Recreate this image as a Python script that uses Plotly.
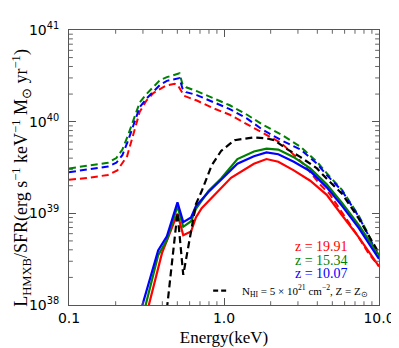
import plotly.graph_objects as go

# ---------------- data ----------------
# Intrinsic (dashed) spectra
E_dash_red = [0.100, 0.133, 0.178, 0.205, 0.237, 0.262, 0.286, 0.316, 0.350, 0.422, 0.480, 0.501,
              0.554, 0.668, 0.853, 1.09, 1.41, 1.75, 2.34, 3.25, 4.16, 4.80, 5.79, 7.39, 8.54, 10.0]
L_dash_red = [2.32e39, 2.44e39, 2.62e39, 2.94e39, 4.20e39, 7.41e39, 1.28e40, 1.70e40, 2.05e40, 2.48e40,
              2.59e40, 2.53e40, 1.91e40, 1.70e40, 1.40e40, 1.19e40, 9.4e39, 7.59e39, 5.85e39, 3.48e39,
              2.07e39, 1.63e39, 1.02e39, 5.49e38, 3.68e38, 2.64e38]

E_dash_green = [0.100, 0.133, 0.178, 0.202, 0.221, 0.240, 0.262, 0.286, 0.316, 0.350, 0.387, 0.428,
                0.480, 0.516, 0.539, 0.570, 0.668, 0.853, 1.09, 1.41, 1.75, 2.34, 3.12, 3.98, 4.60,
                5.79, 7.39, 8.54, 10.0]
L_dash_green = [3.09e39, 3.31e39, 3.56e39, 4.01e39, 4.96e39, 7.07e39, 1.08e40, 1.62e40, 2.00e40,
                2.42e40, 2.85e40, 3.06e40, 3.21e40, 3.37e40, 2.59e40, 2.37e40, 2.15e40, 1.82e40,
                1.51e40, 1.19e40, 9.4e39, 7.24e39, 5.32e39, 3.65e39, 2.74e39, 1.79e39, 9.47e38,
                5.89e38, 3.34e38]

E_dash_blue = [0.100, 0.133, 0.178, 0.202, 0.221, 0.240, 0.262, 0.286, 0.316, 0.350, 0.387, 0.428,
               0.480, 0.516, 0.539, 0.570, 0.668, 0.853, 1.09, 1.41, 1.75, 2.34, 3.12, 3.98, 4.60,
               5.79, 7.39, 8.54, 10.0]
L_dash_blue = [2.81e39, 3.01e39, 3.24e39, 3.56e39, 4.31e39, 6.14e39, 9.6e39, 1.44e40, 1.78e40,
               2.15e40, 2.53e40, 2.79e40, 2.92e40, 2.99e40, 2.31e40, 2.10e40, 1.95e40, 1.62e40,
               1.37e40, 1.08e40, 8.3e39, 6.28e39, 4.96e39, 3.48e39, 2.62e39, 1.75e39, 9.25e38,
               5.76e38, 3.26e38]

# Absorbed (solid) spectra
E_solid_red = [0.325, 0.398, 0.501, 0.546, 0.613, 0.659, 0.718, 0.879, 1.11, 1.56, 1.88, 2.24,
               2.82, 3.60, 4.60, 5.79, 7.39, 10.0]
L_solid_red = [9.5e37, 3.68e38, 9.93e38, 5.76e38, 6.33e38, 9.02e38, 1.14e39, 1.63e39, 2.44e39,
               3.48e39, 3.91e39, 3.65e39, 2.94e39, 2.27e39, 1.59e39, 9.47e38, 5.49e38, 2.64e38]

E_solid_green = [0.310, 0.376, 0.428, 0.501, 0.546, 0.613, 0.659, 0.794, 0.958, 1.22, 1.56, 1.88,
                 2.24, 2.82, 3.60, 4.60, 5.79, 7.39, 10.0]
L_solid_green = [9.5e37, 3.50e38, 5.12e38, 1.20e39, 7.13e38, 8.2e38, 1.12e39, 1.75e39, 2.40e39,
                 3.91e39, 4.73e39, 5.08e39, 4.96e39, 4.10e39, 3.09e39, 2.07e39, 1.29e39, 7.47e38,
                 3.50e38]

E_solid_blue = [0.295, 0.376, 0.428, 0.501, 0.546, 0.613, 0.659, 0.794, 0.958, 1.22, 1.56, 1.88,
                2.24, 2.82, 3.60, 4.60, 5.79, 7.39, 10.0]
L_solid_blue = [9.5e37, 3.94e38, 5.62e38, 1.32e39, 8.02e38, 9.02e38, 1.20e39, 1.71e39, 2.32e39,
                3.48e39, 4.20e39, 4.62e39, 4.41e39, 3.65e39, 2.88e39, 1.92e39, 1.20e39, 6.95e38,
                3.18e38]

E_black = [0.428, 0.501, 0.546, 0.659, 0.718, 0.83, 0.958, 1.17, 1.56, 1.88, 2.11, 2.58, 3.12,
           3.98, 4.60, 5.79, 7.39, 10.0]
L_black = [9.0e37, 1.02e39, 2.13e38, 1.26e39, 1.75e39, 3.3e39, 4.8e39, 6.28e39, 6.74e39, 6.58e39,
           6.28e39, 4.96e39, 4.10e39, 3.09e39, 2.38e39, 1.63e39, 8.81e38, 3.68e38]

x_tickvals = [0.1, 1.0, 10.0]
x_ticktext = ["0.1", "1.0", "10.0"]
x_minor_vals = [m * d for d in (0.1, 1.0) for m in range(2, 10)]
y_tickvals = [1e38, 1e39, 1e40, 1e41]
y_ticktext = ["10<sup>38</sup>", "10<sup>39</sup>", "10<sup>40</sup>", "10<sup>41</sup>"]
y_minor_vals = [m * d for d in (1e38, 1e39, 1e40) for m in range(2, 10)]

legend_labels = ["z = 19.91", "z = 15.34", "z = 10.07"]
legend_colors = ["#ff0000", "#008000", "#0000ff"]
black_label = "N<sub>HI</sub> = 5 × 10<sup>21</sup> cm<sup>−2</sup>, Z = Z<sub>⊙</sub>"

RED, GREEN, BLUE = "#ff0000", "#008000", "#0000ff"
DASH = "7px,4px"

fig = go.Figure()
for E, L, c in [(E_dash_red, L_dash_red, RED), (E_dash_green, L_dash_green, GREEN),
                (E_dash_blue, L_dash_blue, BLUE)]:
    fig.add_trace(go.Scatter(x=E, y=L, mode="lines", line=dict(color=c, width=2, dash=DASH),
                             showlegend=False, hoverinfo="skip"))
for E, L, c in [(E_solid_red, L_solid_red, RED), (E_solid_green, L_solid_green, GREEN),
                (E_solid_blue, L_solid_blue, BLUE)]:
    fig.add_trace(go.Scatter(x=E, y=L, mode="lines", line=dict(color=c, width=2.2),
                             showlegend=False, hoverinfo="skip"))
fig.add_trace(go.Scatter(x=E_black, y=L_black, mode="lines",
                         line=dict(color="black", width=2.2, dash=DASH),
                         showlegend=False, hoverinfo="skip"))

axis_common = dict(showline=True, linecolor="#555", linewidth=1, mirror="ticks",
                   ticks="inside", ticklen=7, tickcolor="#555", tickwidth=1,
                   showgrid=False, zeroline=False)

fig.update_layout(
    xaxis=dict(type="log", range=[-1, 1], tickvals=x_tickvals, ticktext=x_ticktext,
               tickfont=dict(family="DejaVu Sans", size=14, color="black"),
               title=dict(text="Energy(keV)", font=dict(family="Liberation Serif", size=17, color="black"),
                          standoff=6),
               **axis_common),
    yaxis=dict(type="log", range=[38, 41], tickvals=y_tickvals, ticktext=y_ticktext,
               tickfont=dict(family="DejaVu Sans", size=14, color="black"),
               ticklabelstandoff=6, **axis_common),
)

# minor ticks (inside, on all four sides), drawn as short axis-attached segments
TX = 4 / 292.0   # 4 px in paper-y units
TY = 4 / 320.0   # 4 px in paper-x units
minor_line = dict(color="#666", width=1)
for v in x_minor_vals:
    fig.add_shape(type="line", xref="x", yref="paper", x0=v, x1=v, y0=0, y1=TX,
                  line=minor_line, layer="above")
    fig.add_shape(type="line", xref="x", yref="paper", x0=v, x1=v, y0=1 - TX, y1=1,
                  line=minor_line, layer="above")
for v in y_minor_vals:
    fig.add_shape(type="line", xref="paper", yref="y", x0=0, x1=TY, y0=v, y1=v,
                  line=minor_line, layer="above")
    fig.add_shape(type="line", xref="paper", yref="y", x0=1 - TY, x1=1, y0=v, y1=v,
                  line=minor_line, layer="above")

# y axis title as annotation
fig.add_annotation(text="L<sub>HMXB</sub>/SFR(erg s<sup>−1</sup> keV<sup>−1</sup> M<sub>⊙</sub> yr<sup>−1</sup>)",
                   xref="paper", yref="paper", x=-0.152, y=0.462, textangle=-90, showarrow=False,
                   font=dict(family="Liberation Serif", size=18, color="black"),
                   xanchor="center", yanchor="middle")

# legend-like texts
ys = [0.213, 0.162, 0.114]
for lab, col, yy in zip(legend_labels, legend_colors, ys):
    fig.add_annotation(text=lab, xref="paper", yref="paper", x=0.905, y=yy, showarrow=False,
                       xanchor="right", yanchor="middle",
                       font=dict(family="Liberation Serif", size=14, color=col))
fig.add_annotation(text=black_label, xref="paper", yref="paper", x=0.55, y=0.052, showarrow=False,
                   xanchor="left", yanchor="middle",
                   font=dict(family="Liberation Serif", size=11, color="black"))
fig.add_shape(type="line", xref="paper", yref="paper", x0=0.465, x1=0.515, y0=0.052, y1=0.052,
              line=dict(color="black", width=2.2, dash="5px,3px"))

fig.update_layout(width=399, height=348, margin=dict(l=61, r=18, t=13, b=43),
                  paper_bgcolor="white", plot_bgcolor="white", showlegend=False)

fig.write_html("out.html")
